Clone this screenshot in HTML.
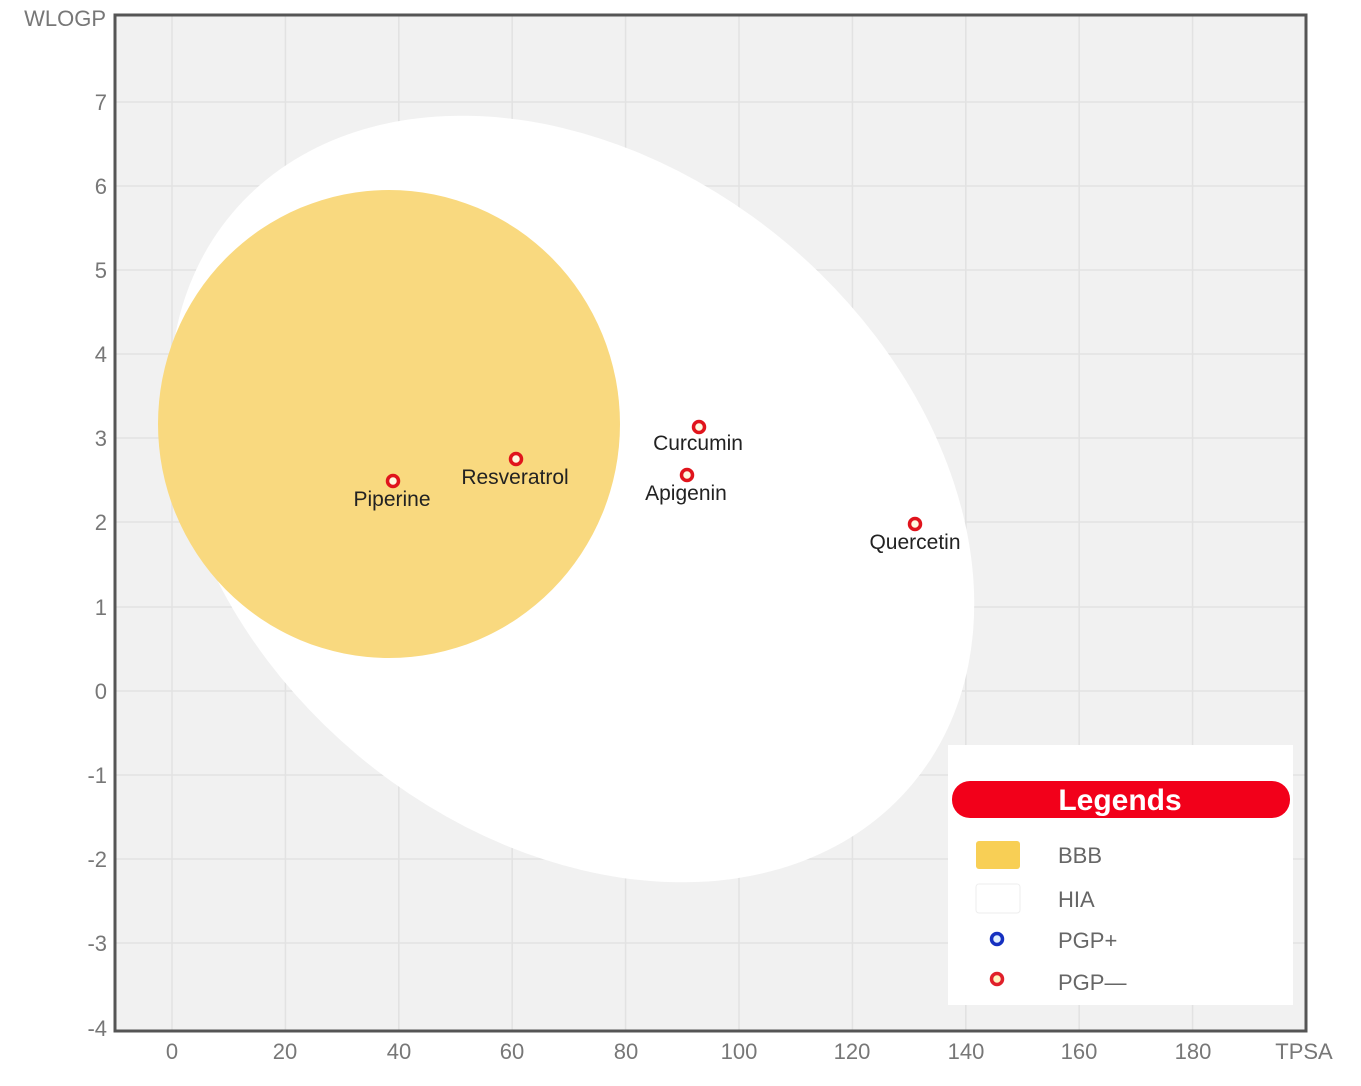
<!DOCTYPE html><html><head><style>body{margin:0;background:#fff}svg{display:block}</style></head><body>
<svg width="1361" height="1086" xmlns="http://www.w3.org/2000/svg" font-family="Liberation Sans, sans-serif">
<rect x="115" y="15" width="1191" height="1016" fill="#f1f1f1"/>
<g stroke="#e2e2e2" stroke-width="1.5">
<line x1="172" y1="15" x2="172" y2="1031"/><line x1="285.4" y1="15" x2="285.4" y2="1031"/><line x1="398.8" y1="15" x2="398.8" y2="1031"/><line x1="512.2" y1="15" x2="512.2" y2="1031"/><line x1="625.6" y1="15" x2="625.6" y2="1031"/><line x1="739" y1="15" x2="739" y2="1031"/><line x1="852.4" y1="15" x2="852.4" y2="1031"/><line x1="965.8" y1="15" x2="965.8" y2="1031"/><line x1="1079.2" y1="15" x2="1079.2" y2="1031"/><line x1="1192.6" y1="15" x2="1192.6" y2="1031"/>
<line x1="115" y1="102" x2="1306" y2="102"/><line x1="115" y1="186" x2="1306" y2="186"/><line x1="115" y1="270" x2="1306" y2="270"/><line x1="115" y1="354" x2="1306" y2="354"/><line x1="115" y1="438" x2="1306" y2="438"/><line x1="115" y1="522" x2="1306" y2="522"/><line x1="115" y1="607" x2="1306" y2="607"/><line x1="115" y1="691" x2="1306" y2="691"/><line x1="115" y1="775" x2="1306" y2="775"/><line x1="115" y1="859" x2="1306" y2="859"/><line x1="115" y1="943" x2="1306" y2="943"/>
</g>
<ellipse cx="572" cy="499" rx="444" ry="334" transform="rotate(40 572 499)" fill="#fff"/>
<ellipse cx="389" cy="424" rx="231" ry="234" fill="#f9d97f"/>
<rect x="115" y="15" width="1191" height="1016" fill="none" stroke="#555" stroke-width="3"/>
<g fill="#777" font-size="22" text-anchor="end">
<text x="107" y="110">7</text><text x="107" y="194">6</text><text x="107" y="278">5</text><text x="107" y="362">4</text><text x="107" y="446">3</text><text x="107" y="530">2</text><text x="107" y="615">1</text><text x="107" y="699">0</text><text x="107" y="783">-1</text><text x="107" y="867">-2</text><text x="107" y="951">-3</text><text x="107" y="1036">-4</text>
<text x="106" y="26">WLOGP</text>
</g>
<g fill="#777" font-size="22" text-anchor="middle">
<text x="172" y="1059">0</text><text x="285" y="1059">20</text><text x="399" y="1059">40</text><text x="512" y="1059">60</text><text x="626" y="1059">80</text><text x="739" y="1059">100</text><text x="852" y="1059">120</text><text x="966" y="1059">140</text><text x="1079" y="1059">160</text><text x="1193" y="1059">180</text><text x="1304" y="1059">TPSA</text>
</g>
<g fill="#fff8e0" stroke="#e0141c" stroke-width="3.5">
<circle cx="393" cy="481" r="5.5"/><circle cx="516" cy="459" r="5.5"/><circle cx="699" cy="427" r="5.5"/><circle cx="687" cy="475" r="5.5"/><circle cx="915" cy="524" r="5.5"/>
</g>
<g fill="#222" font-size="21" text-anchor="middle">
<text x="392" y="506">Piperine</text><text x="515" y="484">Resveratrol</text><text x="698" y="450">Curcumin</text><text x="686" y="500">Apigenin</text><text x="915" y="549">Quercetin</text>
</g>
<rect x="948" y="745" width="345" height="260" fill="#fff"/>
<rect x="952" y="781" width="338" height="37" rx="18" fill="#f2001a"/>
<text x="1120" y="810" fill="#fff" font-size="30" font-weight="bold" text-anchor="middle">Legends</text>
<rect x="976" y="841" width="44" height="28" rx="3" fill="#f8cf55"/>
<rect x="976" y="884" width="44" height="29" rx="3" fill="#fff" stroke="#eee"/>
<circle cx="997" cy="939" r="5.5" fill="#dfefff" stroke="#1530c0" stroke-width="3.5"/>
<circle cx="997" cy="979" r="5.5" fill="#fff3c0" stroke="#e0202a" stroke-width="3.5"/>
<g fill="#666" font-size="22">
<text x="1058" y="863">BBB</text><text x="1058" y="907">HIA</text><text x="1058" y="948">PGP+</text><text x="1058" y="990">PGP—</text>
</g>
</svg></body></html>
